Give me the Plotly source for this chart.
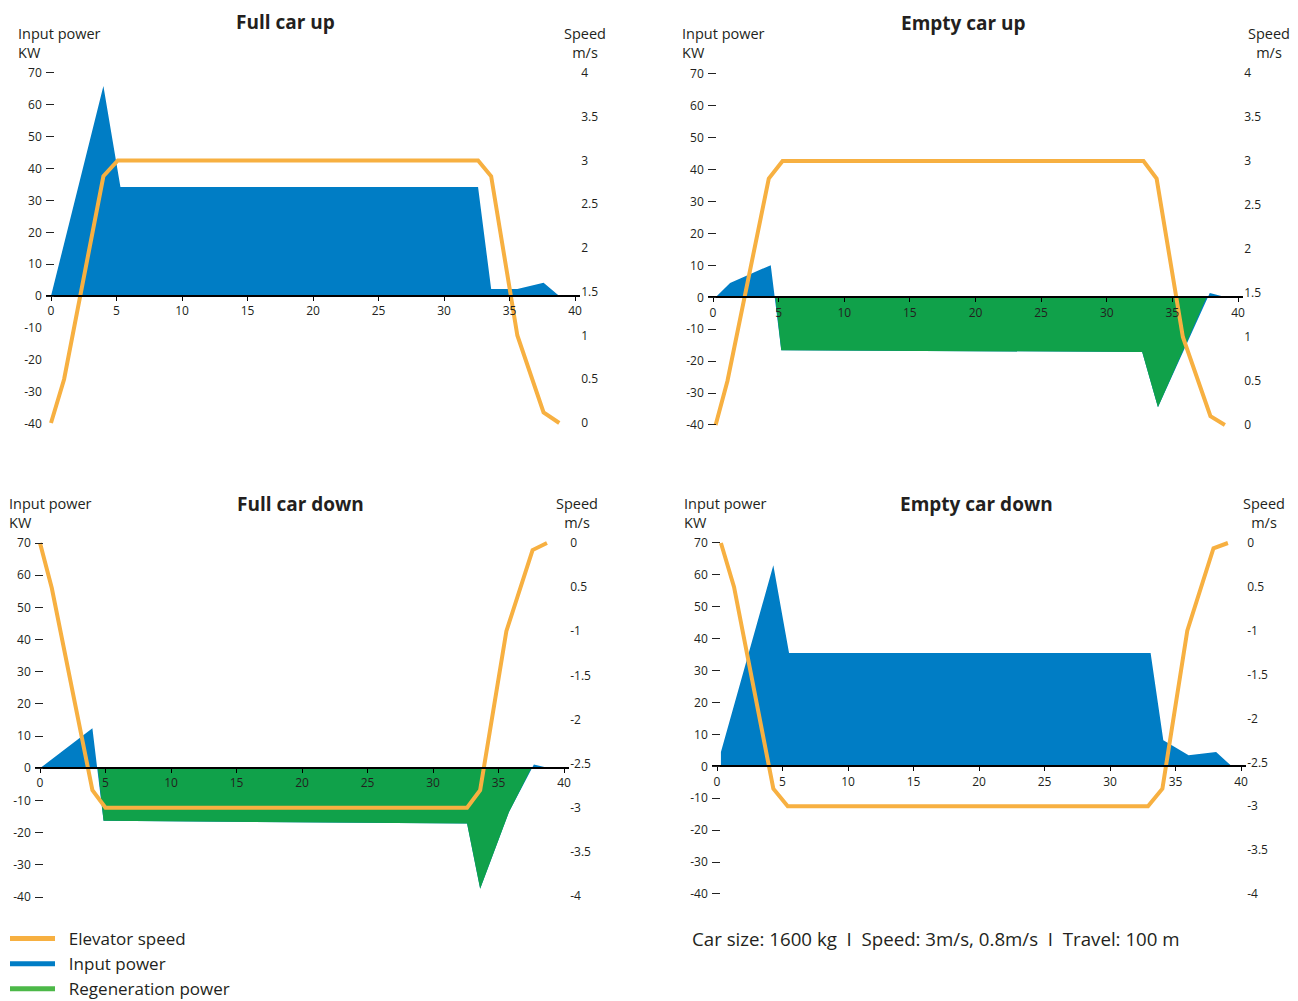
import plotly.graph_objects as go

W, H = 1298, 1001
FONT = "Open Sans"
TXT = "#231f20"
ORANGE = "#f7b041"
BLUE = "#007dc5"
GREEN = "#10a14a"
LEG_GREEN = "#4cb848"

# ---------------- data ----------------
TIME_TICKS = [0, 5, 10, 15, 20, 25, 30, 35, 40]
POWER_TICKS_POS = [70, 60, 50, 40, 30, 20, 10, 0]
POWER_TICKS_NEG = [-10, -20, -30, -40]
SPEED_TICKS_UP = [4, 3.5, 3, 2.5, 2, 1.5, 1, 0.5, 0]
SPEED_TICKTEXT_UP = ["4", "3.5", "3", "2.5", "2", "1.5", "1", "0.5", "0"]
SPEED_TICKS_DOWN = [0, -0.5, -1, -1.5, -2, -2.5, -3, -3.5, -4]
SPEED_TICKTEXT_DOWN = ["0", "0.5", "-1", "-1.5", "-2", "-2.5", "-3", "-3.5", "-4"]

PANEL_TITLES = ["Full car up", "Empty car up", "Full car down", "Empty car down"]
LEGEND_NAMES = ["Elevator speed", "Input power", "Regeneration power"]
FOOTNOTE = "Car size: 1600 kg  I  Speed: 3m/s, 0.8m/s  I  Travel: 100 m"

# Full car up
FULL_UP_SPEED_T = [0, 1.0, 4.0, 5.1, 32.6, 33.6, 35.6, 37.6, 38.8]
FULL_UP_SPEED = [0, 0.5, 2.82, 3, 3, 2.82, 1.0, 0.12, 0]
FULL_UP_POWER_T = [0, 4.0, 5.3, 32.6, 33.6, 35.6, 37.6, 38.8]
FULL_UP_POWER = [0, 65.9, 34.2, 34.2, 2.2, 2.2, 4.2, 0]
FULL_UP_REGEN_T = []
FULL_UP_REGEN = []

# Empty car up
EMPTY_UP_SPEED_T = [0.2, 1.1, 4.25, 5.3, 32.8, 33.8, 35.8, 37.9, 39.0]
EMPTY_UP_SPEED = [0, 0.5, 2.8, 3, 3, 2.8, 1.0, 0.1, 0]
EMPTY_UP_POWER_T = [0.2, 1.3, 4.4, 5.2, 32.7, 33.9, 37.85, 39.1]
EMPTY_UP_POWER = [0, 4.5, 10.1, -16.6, -17.1, -34.4, 1.4, 0]
EMPTY_UP_REGEN_T = [4.75, 5.2, 32.7, 33.9, 37.6]
EMPTY_UP_REGEN = [0, -16.6, -17.1, -34.4, 0]

# Full car down
FULL_DOWN_SPEED_T = [0, 0.9, 4.0, 5.0, 32.6, 33.6, 35.6, 37.6, 38.7]
FULL_DOWN_SPEED = [0, -0.51, -2.8, -3, -3, -2.8, -1.0, -0.08, 0]
FULL_DOWN_POWER_T = [0, 4.0, 4.85, 32.6, 33.6, 35.8, 37.7, 38.9]
FULL_DOWN_POWER = [0, 12.4, -16.3, -17.2, -37.4, -13.6, 1.15, 0]
FULL_DOWN_REGEN_T = [4.42, 4.85, 32.6, 33.6, 35.8, 37.5]
FULL_DOWN_REGEN = [0, -16.3, -17.2, -37.4, -13.6, 0]

# Empty car down
EMPTY_DOWN_SPEED_T = [0.3, 1.3, 4.3, 5.4, 32.9, 34.0, 35.9, 37.9, 39.0]
EMPTY_DOWN_SPEED = [0, -0.5, -2.8, -3, -3, -2.8, -1.0, -0.06, 0]
EMPTY_DOWN_POWER_T = [0.3, 0.3, 4.3, 5.5, 33.1, 34.07, 34.3, 36.0, 38.1, 39.3]
EMPTY_DOWN_POWER = [0, 4.5, 63.0, 35.5, 35.5, 8.2, 7.6, 3.45, 4.5, 0]
EMPTY_DOWN_REGEN_T = []
EMPTY_DOWN_REGEN = []

PANELS = [
    (FULL_UP_SPEED_T, FULL_UP_SPEED, FULL_UP_POWER_T, FULL_UP_POWER, FULL_UP_REGEN_T, FULL_UP_REGEN),
    (EMPTY_UP_SPEED_T, EMPTY_UP_SPEED, EMPTY_UP_POWER_T, EMPTY_UP_POWER, EMPTY_UP_REGEN_T, EMPTY_UP_REGEN),
    (FULL_DOWN_SPEED_T, FULL_DOWN_SPEED, FULL_DOWN_POWER_T, FULL_DOWN_POWER, FULL_DOWN_REGEN_T, FULL_DOWN_REGEN),
    (EMPTY_DOWN_SPEED_T, EMPTY_DOWN_SPEED, EMPTY_DOWN_POWER_T, EMPTY_DOWN_POWER, EMPTY_DOWN_REGEN_T, EMPTY_DOWN_REGEN),
]

# ---------------- layout geometry (pixels) ----------------
GEOM = [
    dict(x0=51, x40=575, p70=73, pm40=423.5, s_top=73, s_bot=423, sv_top=4, sv_bot=0, up=True),
    dict(x0=713, x40=1238, p70=74, pm40=425, s_top=73, s_bot=425, sv_top=4, sv_bot=0, up=True),
    dict(x0=40, x40=564, p70=543, pm40=897, s_top=543, s_bot=896, sv_top=0, sv_bot=-4, up=False),
    dict(x0=717, x40=1241, p70=543, pm40=894, s_top=543, s_bot=894, sv_top=0, sv_bot=-4, up=False),
]
TITLE_POS = [(285, 22), (963, 23), (300, 504), (977, 504)]
YLAB_POS = [(16, 22), (680, 22), (7, 492), (682, 492)]
SLAB_POS = [(585, 22), (1269, 22), (577, 492), (1264, 492)]

XR = [-0.4, 40.4]
PR = [-42, 72]


def hy(v):
    return "%g" % v


fig = go.Figure()
layout = dict(
    width=W, height=H, margin=dict(l=0, r=0, t=0, b=0, pad=0, autoexpand=False),
    paper_bgcolor="white", plot_bgcolor="rgba(0,0,0,0)",
    font=dict(family=FONT, color=TXT, size=12),
    showlegend=True,
)

annotations = []
for i, g in enumerate(GEOM):
    n = i + 1
    xs = "" if n == 1 else str(n)
    xname, yname, sname = "x" + xs, "y" + xs, "y" + str(n + 4)
    ppu = (g["x40"] - g["x0"]) / 40.0
    xl = g["x0"] + XR[0] * ppu
    xr = g["x0"] + XR[1] * ppu
    ppk = (g["pm40"] - g["p70"]) / 110.0
    yt = g["p70"] - (PR[1] - 70) * ppk
    yb = g["pm40"] + (-40 - PR[0]) * ppk
    sps = (g["s_bot"] - g["s_top"]) / (g["sv_top"] - g["sv_bot"])

    def s_at(py, g=g, sps=sps):
        return g["sv_top"] - (py - g["s_top"]) / sps

    xdom = [xl / W, xr / W]
    ydom = [1 - yb / H, 1 - yt / H]
    zero_py = g["p70"] + 70 * ppk
    zero_pos = 1 - zero_py / H

    layout["xaxis" + xs] = dict(
        domain=xdom, range=XR, anchor="free", position=zero_pos,
        tickvals=TIME_TICKS, ticks="outside", ticklen=4, tickwidth=1.2, tickcolor="#000",
        showline=True, linecolor="#000", linewidth=1.6, showgrid=False, zeroline=False,
        tickfont=dict(size=12, color=TXT, family=FONT), fixedrange=True,
    )
    ptick = POWER_TICKS_POS if n == 1 else POWER_TICKS_POS + POWER_TICKS_NEG
    layout["yaxis" + xs] = dict(
        domain=ydom, range=PR, anchor=xname,
        tickvals=ptick, ticktext=[hy(v) for v in ptick],
        ticks="inside", ticklen=8, tickwidth=1.2, tickcolor="#222", ticklabelstandoff=3,
        showline=False, showgrid=False, zeroline=False,
        tickfont=dict(size=12, color=TXT, family=FONT), fixedrange=True,
    )
    if g["up"]:
        sv, stx = SPEED_TICKS_UP, SPEED_TICKTEXT_UP
    else:
        sv, stx = SPEED_TICKS_DOWN, SPEED_TICKTEXT_DOWN
    layout["yaxis" + str(n + 4)] = dict(
        domain=ydom, range=[s_at(yb), s_at(yt)], anchor=xname, overlaying=yname, side="right",
        tickvals=sv, ticktext=stx, ticks="", showline=False, showgrid=False, zeroline=False,
        tickfont=dict(size=12, color=TXT, family=FONT), fixedrange=True,
    )

    st, sp, pt, pp, rt, rp = PANELS[i]
    fig.add_trace(go.Scatter(
        x=pt, y=pp, xaxis=xname, yaxis=yname, mode="lines", fill="tozeroy",
        fillcolor=BLUE, line=dict(width=0, color=BLUE), showlegend=False, hoverinfo="skip",
    ))
    if len(rt):
        fig.add_trace(go.Scatter(
            x=rt, y=rp, xaxis=xname, yaxis=yname, mode="lines", fill="tozeroy",
            fillcolor=GREEN, line=dict(width=0, color=GREEN), showlegend=False, hoverinfo="skip",
        ))
    fig.add_trace(go.Scatter(
        x=st, y=sp, xaxis=xname, yaxis=sname, mode="lines",
        line=dict(width=4, color=ORANGE), showlegend=False, hoverinfo="skip",
    ))

    if n == 1:
        # extra axis carrying negative power labels without tick marks
        layout["yaxis9"] = dict(
            domain=ydom, range=PR, anchor="x", overlaying="y", side="left",
            tickvals=POWER_TICKS_NEG, ticktext=[hy(v) for v in POWER_TICKS_NEG],
            ticks="", ticklabelstandoff=3, showline=False, showgrid=False, zeroline=False,
            tickfont=dict(size=12, color=TXT, family=FONT), fixedrange=True,
        )
        fig.add_trace(go.Scatter(x=[None], y=[None], xaxis="x", yaxis="y9",
                                 mode="lines", showlegend=False, hoverinfo="skip"))

    tx, ty = TITLE_POS[i]
    annotations.append(dict(
        text="<b>" + PANEL_TITLES[i] + "</b>", x=tx / W, y=1 - ty / H, xref="paper", yref="paper",
        xanchor="center", yanchor="middle", showarrow=False,
        font=dict(size=19, family=FONT, color=TXT),
    ))
    lx, ly = YLAB_POS[i]
    annotations.append(dict(
        text="Input power<br>KW", x=lx / W, y=1 - ly / H, xref="paper", yref="paper",
        xanchor="left", yanchor="top", align="left", showarrow=False,
        font=dict(size=14.5, family=FONT, color=TXT),
    ))
    sx, sy = SLAB_POS[i]
    annotations.append(dict(
        text="Speed<br>m/s", x=sx / W, y=1 - sy / H, xref="paper", yref="paper",
        xanchor="center", yanchor="top", align="center", showarrow=False,
        font=dict(size=14.5, family=FONT, color=TXT),
    ))

annotations.append(dict(
    text=FOOTNOTE, x=690 / W, y=1 - 938 / H, xref="paper", yref="paper",
    xanchor="left", yanchor="middle", showarrow=False,
    font=dict(size=18.7, family=FONT, color=TXT),
))

for k, (name, col) in enumerate(zip(LEGEND_NAMES, [ORANGE, BLUE, LEG_GREEN])):
    fig.add_trace(go.Scatter(x=[None], y=[None], xaxis="x", yaxis="y", mode="lines",
                             name="\u00a0\u00a0" + name, legendgroup="g%d" % k,
                             line=dict(width=5, color=col), hoverinfo="skip"))

layout["legend"] = dict(
    x=5 / W, y=1 - 921 / H, xanchor="left", yanchor="top", orientation="v",
    font=dict(size=17, family=FONT, color=TXT), itemwidth=45,
    bgcolor="rgba(0,0,0,0)", traceorder="normal", tracegroupgap=2.5,
)
layout["annotations"] = annotations
fig.update_layout(**layout)
fig.write_html("out.html", config={"displayModeBar": False},
               post_script="document.body.style.margin='0';document.body.style.overflow='hidden';")
